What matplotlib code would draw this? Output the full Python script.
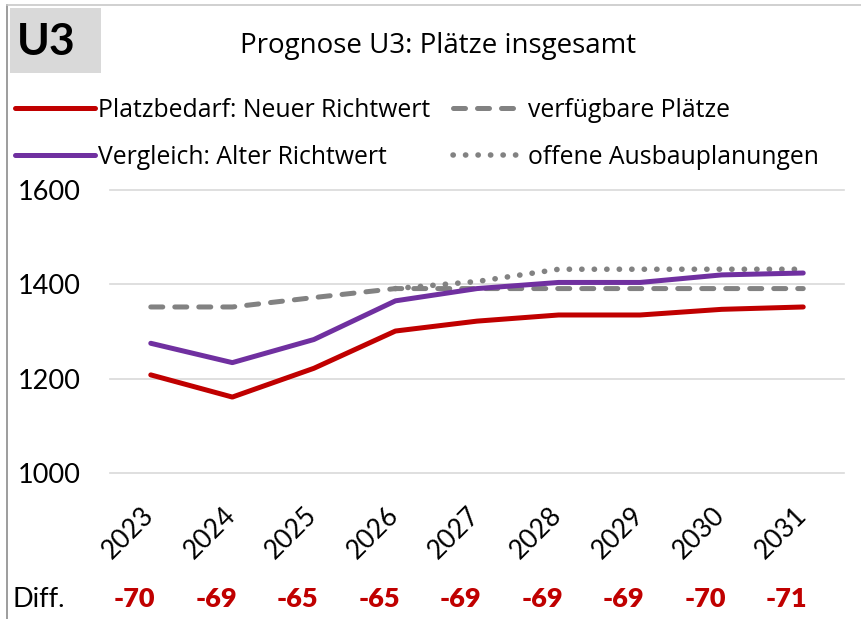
import numpy as np
import matplotlib
matplotlib.use('Agg')
import matplotlib.pyplot as plt
import matplotlib.transforms as mtransforms
from matplotlib.lines import Line2D
from matplotlib.patches import Rectangle

plt.rcParams['font.family'] = ['Lato', 'DejaVu Sans']
WIDE = ['Open Sans', 'DejaVu Sans']

# data
years = ['2023', '2024', '2025', '2026', '2027', '2028', '2029', '2030', '2031']
bedarf_neu = [1208, 1161, 1222, 1301, 1322, 1335, 1335, 1347, 1352]
bedarf_alt = [1275, 1234, 1283, 1365, 1391, 1404, 1404, 1420, 1424]
verfuegbar = [1352, 1352, 1372, 1391, 1391, 1391, 1391, 1391, 1391]
ausbau = [np.nan, np.nan, np.nan, 1391, 1406, 1432, 1432, 1432, 1432]
diff = [-70, -69, -65, -65, -69, -69, -69, -70, -71]
yticks = [1000, 1200, 1400, 1600]

RED = '#C00000'
PURPLE = '#7030A0'
GREY = '#828282'

fig = plt.figure(figsize=(8.62, 6.19), dpi=100)
W, H = 862, 619
ax = fig.add_axes([110 / W, 1 - 473 / H, 734 / W, 283 / H])

x = np.arange(len(years))
lw = 3.6
ax.plot(x, ausbau, color=GREY, lw=4.0, linestyle=(0, (0.05, 2.2)),
        dash_capstyle='round', zorder=2, label='offene Ausbauplanungen')
ax.plot(x, verfuegbar, color=GREY, lw=lw, linestyle=(0, (2.4, 2.4)),
        dash_capstyle='round', zorder=3, label='verfügbare Plätze')
ax.plot(x, bedarf_alt, color=PURPLE, lw=lw, solid_capstyle='round', zorder=4,
        label='Vergleich: Alter Richtwert')
ax.plot(x, bedarf_neu, color=RED, lw=lw, solid_capstyle='round', zorder=5,
        label='Platzbedarf: Neuer Richtwert')

ax.set_xlim(-0.5, len(years) - 0.5)
ax.set_ylim(1000, 1600)
ax.set_yticks(yticks)
ax.set_yticklabels([str(v) for v in yticks], fontsize=19.5)
ax.set_xticks(x)
ax.set_xticklabels(years, fontsize=19, rotation=45, ha='right', va='top')
ax.tick_params(axis='both', length=0)
ax.tick_params(axis='y', pad=21)
ax.tick_params(axis='x', pad=21)
offset = mtransforms.ScaledTranslation(0.08, 0, fig.dpi_scale_trans)
for lab in ax.get_xticklabels():
    lab.set_transform(lab.get_transform() + offset)

ax.grid(axis='y', color='#d9d9d9', lw=1.2)
ax.set_axisbelow(True)
for gl in ax.get_ygridlines():
    gl.set_clip_on(False)
for s in ax.spines.values():
    s.set_visible(False)

# Diff row
trans = mtransforms.blended_transform_factory(ax.transData, fig.transFigure)
for i, d in enumerate(diff):
    ax.text(i - 0.2, 1 - 607 / H, str(d), transform=trans, ha='center',
            va='baseline', fontsize=19.5, fontweight='heavy', color=RED)
fig.text(13 / W, 1 - 607 / H, 'Diff.', ha='left', va='baseline', fontsize=19.5)

# title and badge
fig.patches.append(Rectangle((10 / W, 1 - 73 / H), 91 / W, 65 / H,
                             transform=fig.transFigure, facecolor='#d9d9d9',
                             edgecolor='none'))
fig.text(17 / W, 1 - 55 / H, 'U3', ha='left', va='baseline', fontsize=32,
         fontweight='bold')
fig.text(438 / W, 1 - 53 / H, 'Prognose U3: Plätze insgesamt', ha='center',
         va='baseline', fontsize=20, family=WIDE)

# frame lines
fig.add_artist(Line2D([7 / W, 7 / W], [0, 1 - 5 / H], transform=fig.transFigure,
                      color='#8c8c8c', lw=1.2))
fig.add_artist(Line2D([7 / W, 1], [1 - 5 / H, 1 - 5 / H], transform=fig.transFigure,
                      color='#c8c8c8', lw=1.2))

# legend
h = ax.get_lines()
leg_font = {'family': WIDE, 'size': 17.8}
leg1 = fig.legend([h[3], h[2]], [h[3].get_label(), h[2].get_label()],
                  loc='center left', bbox_to_anchor=(15 / W, 1 - 134 / H),
                  frameon=False, prop=leg_font, handlelength=3.25, handletextpad=0.1,
                  labelspacing=0.9, borderpad=0, borderaxespad=0)
leg2 = fig.legend([h[1], h[0]], [h[1].get_label(), h[0].get_label()],
                  loc='center left', bbox_to_anchor=(453 / W, 1 - 134 / H),
                  frameon=False, prop=leg_font, handlelength=2.7, handletextpad=0.33,
                  labelspacing=0.9, borderpad=0, borderaxespad=0)

fig.savefig('out.png', dpi=100)
